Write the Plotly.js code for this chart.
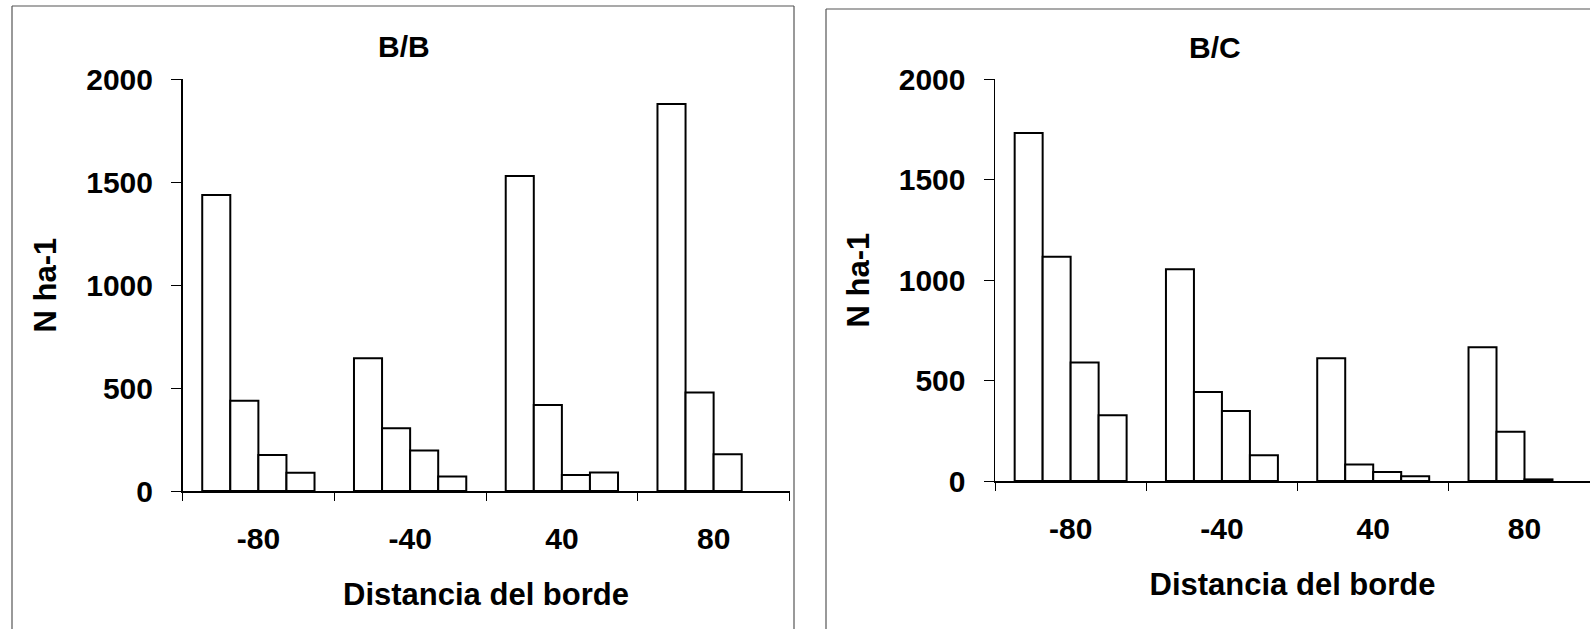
<!DOCTYPE html>
<html>
<head>
<meta charset="utf-8">
<script src="https://cdn.plot.ly/plotly-3.0.1.min.js"></script>
<style>
  html, body { margin: 0; padding: 0; background: #fff; }
  #chart { width: 1590px; height: 629px; }
</style>
</head>
<body>
<div id="chart"></div>
<script>
// Categories (distance from edge)
const categories = ['-80', '-40', '40', '80'];

// Panel B/B values (N ha-1), four size classes (null = no bar visible)
const bbClass1 = [1437, 644, 1529, 1879];
const bbClass2 = [438, 305, 417, 478];
const bbClass3 = [175, 197, 78, 178];
const bbClass4 = [88, 70, 90, null];

// Panel B/C values (N ha-1), four size classes (null = no bar visible)
const bcClass1 = [1731, 1053, 611, 665];
const bcClass2 = [1116, 443, 82, 245];
const bcClass3 = [589, 348, 45, 8];
const bcClass4 = [327, 128, 24, null];

const panelTitles = ['B/B', 'B/C'];
const xTitle = 'Distancia del borde';
const yTitle = 'N ha-1';
const yTicks = [0, 500, 1000, 1500, 2000];

const W = 1590, H = 629;
const FONT = 'Liberation Sans, Arial, Helvetica, sans-serif';

function barTrace(y, xa, ya) {
  return {
    type: 'bar', x: categories, y: y, xaxis: xa, yaxis: ya,
    marker: { color: '#ffffff', line: { color: '#000000', width: 2 } },
    hoverinfo: 'skip', showlegend: false
  };
}

const data = [
  barTrace(bbClass1, 'x', 'y'), barTrace(bbClass2, 'x', 'y'),
  barTrace(bbClass3, 'x', 'y'), barTrace(bbClass4, 'x', 'y'),
  barTrace(bcClass1, 'x2', 'y2'), barTrace(bcClass2, 'x2', 'y2'),
  barTrace(bcClass3, 'x2', 'y2'), barTrace(bcClass4, 'x2', 'y2')
];

const tickFont = { family: FONT, size: 30, color: '#000', weight: 'bold' };
const titleFont = { family: FONT, size: 31, color: '#000', weight: 'bold' };

function xAxis(domain, range, anchor) {
  return {
    domain: domain, range: range, type: 'category', anchor: anchor,
    showline: true, linecolor: '#000', linewidth: 1.5,
    ticks: 'outside', ticklen: 8, tickwidth: 1, tickcolor: '#000',
    tickson: 'boundaries', ticklabelstandoff: 20,
    tickfont: tickFont, showgrid: false, zeroline: false,
    title: { text: xTitle, font: titleFont, standoff: 30 },
    automargin: false, fixedrange: true
  };
}
function yAxis(domain, anchor) {
  return {
    domain: domain, range: [0, 2000], anchor: anchor,
    tickvals: yTicks, ticktext: yTicks.map(String),
    showline: true, linecolor: '#000', linewidth: 1.5,
    ticks: 'outside', ticklen: 10, tickwidth: 1, tickcolor: '#000',
    ticklabelstandoff: 12,
    tickfont: tickFont, showgrid: false, zeroline: false,
    title: { text: yTitle, font: titleFont, standoff: 20 },
    automargin: false, fixedrange: true
  };
}

const layout = {
  width: W, height: H,
  margin: { l: 0, r: 0, t: 0, b: 0, pad: 0 },
  paper_bgcolor: '#fff', plot_bgcolor: '#fff',
  barmode: 'group', bargap: 0.26, bargroupgap: 0,
  showlegend: false,
  xaxis: xAxis([182.5 / W, 789.5 / W], [-0.5, 3.5], 'y'),
  yaxis: yAxis([(H - 491) / H, (H - 79) / H], 'x'),
  xaxis2: xAxis([995 / W, 1], [-0.5, 3.433], 'y2'),
  yaxis2: yAxis([(H - 481) / H, (H - 79) / H], 'x2'),
  annotations: [
    { text: panelTitles[0], xref: 'paper', yref: 'paper', x: 403.5 / W, y: (H - 46) / H,
      xanchor: 'center', yanchor: 'middle', showarrow: false, font: { family: FONT, size: 30, color: '#000', weight: 'bold' } },
    { text: panelTitles[1], xref: 'paper', yref: 'paper', x: 1215 / W, y: (H - 47) / H,
      xanchor: 'center', yanchor: 'middle', showarrow: false, font: { family: FONT, size: 30, color: '#000', weight: 'bold' } }
  ],
  shapes: [
    // left figure frame
    { type: 'line', xref: 'paper', yref: 'paper', x0: 12 / W, x1: 12 / W, y0: 0, y1: (H - 6) / H, line: { color: '#555', width: 1.2 } },
    { type: 'line', xref: 'paper', yref: 'paper', x0: 12 / W, x1: 794 / W, y0: (H - 6) / H, y1: (H - 6) / H, line: { color: '#555', width: 1.2 } },
    { type: 'line', xref: 'paper', yref: 'paper', x0: 794 / W, x1: 794 / W, y0: 0, y1: (H - 6) / H, line: { color: '#555', width: 1.2 } },
    // right figure frame
    { type: 'line', xref: 'paper', yref: 'paper', x0: 826 / W, x1: 826 / W, y0: 0, y1: (H - 9) / H, line: { color: '#555', width: 1.2 } },
    { type: 'line', xref: 'paper', yref: 'paper', x0: 826 / W, x1: 1, y0: (H - 9) / H, y1: (H - 9) / H, line: { color: '#555', width: 1.2 } }
  ]
};

Plotly.newPlot('chart', data, layout, { displayModeBar: false, staticPlot: true });
</script>
</body>
</html>
